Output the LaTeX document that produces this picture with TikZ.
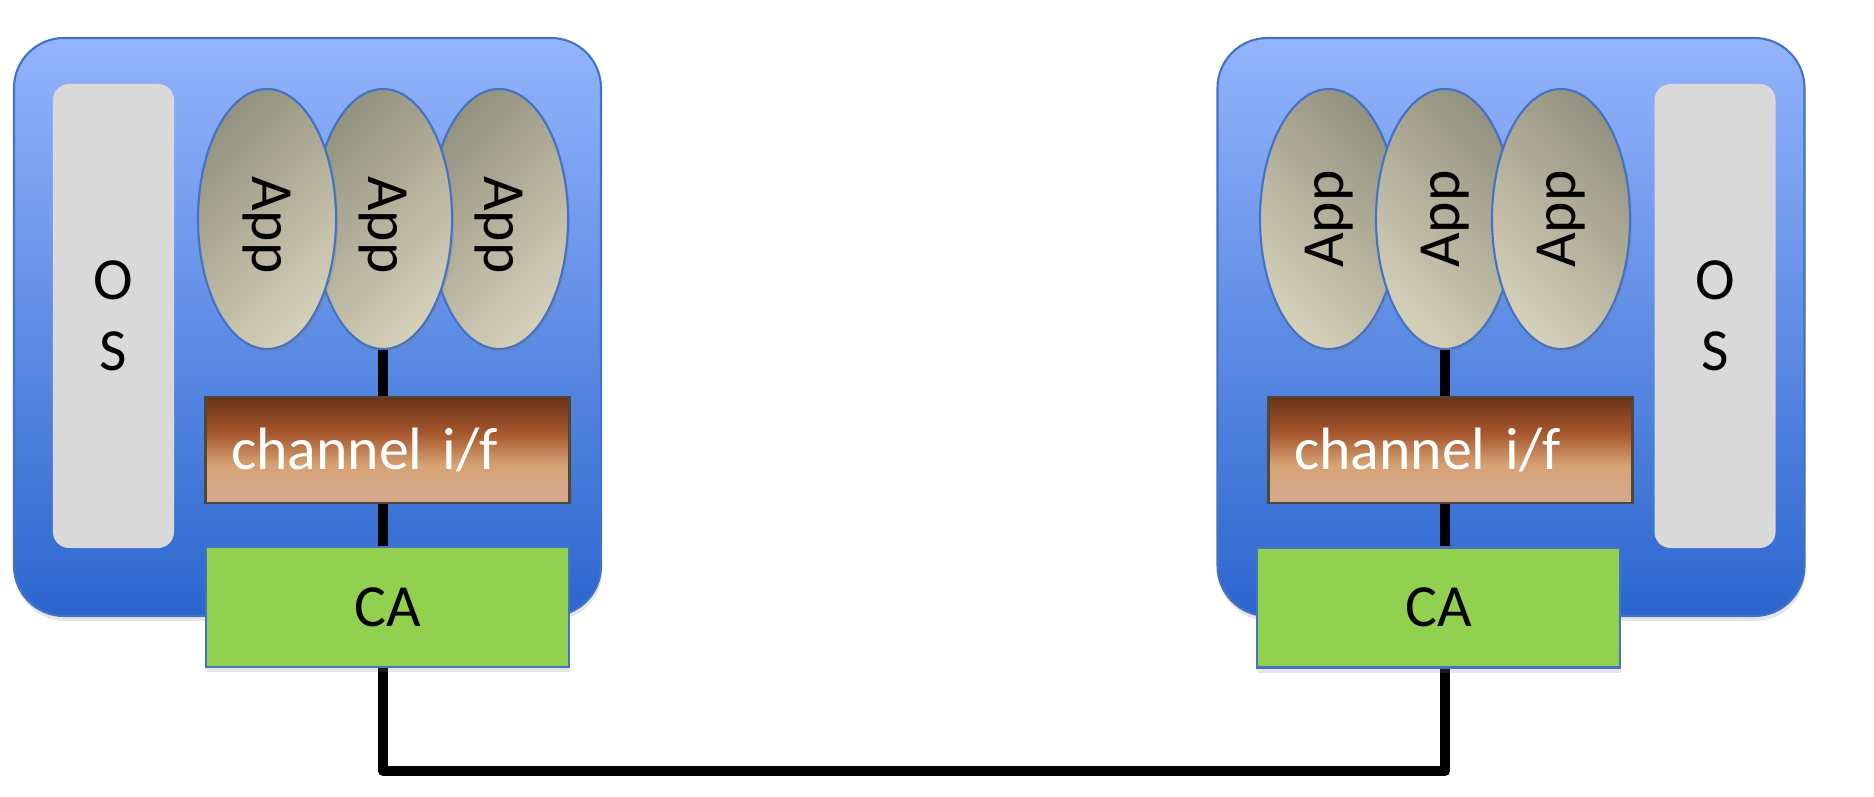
\documentclass[tikz,border=0pt]{standalone}
\usepackage{fontspec}
\setmainfont{Carlito}
\usetikzlibrary{positioning, shapes.geometric, shadows}

\definecolor{hosttop}{HTML}{94B4FC}
\definecolor{hostbot}{HTML}{2B66CE}
\definecolor{hostline}{HTML}{4472C4}
\definecolor{osgray}{HTML}{D9D9D9}
\definecolor{appdark}{HTML}{949281}
\definecolor{applight}{HTML}{D4CFB8}
\definecolor{chantop}{HTML}{6A3419}
\definecolor{chanmid}{HTML}{A6572D}
\definecolor{chanlow}{HTML}{D6A273}
\definecolor{chanbot}{HTML}{D6AA91}
\definecolor{chanline}{HTML}{4D4838}
\definecolor{cagreen}{HTML}{92D050}

\pgfdeclareverticalshading{chanshade}{100bp}{color(0bp)=(chanbot); color(25bp)=(chanbot); color(43bp)=(chanlow); color(58bp)=(chanmid); color(75bp)=(chantop); color(100bp)=(chantop)}

\tikzset{
  every node/.style={font=\fontsize{17}{20.2}\selectfont},
  node distance=1.16cm,
  host/.style={draw=hostline, line width=0.6pt, rounded corners=0.5cm, top color=hosttop, bottom color=hostbot,
    minimum width=5.87cm, minimum height=5.78cm, drop shadow={opacity=0.2, shadow xshift=0.01cm, shadow yshift=-0.05cm}},
  os/.style={fill=osgray, rounded corners=0.16cm, minimum width=1.21cm, minimum height=4.64cm, align=center},
  app/.style={ellipse, draw=hostline, line width=0.6pt, inner sep=0pt, minimum width=1.38cm, minimum height=2.60cm,
    top color=appdark, bottom color=applight, on grid, drop shadow={opacity=0.3, shadow xshift=0.02cm, shadow yshift=-0.03cm}},
  lapp/.style={app, shading angle=45},
  rapp/.style={app, shading angle=-45},
  chan/.style={draw=chanline, line width=0.7pt, shading=chanshade, text=white, minimum height=1.06cm,
    inner xsep=0.255cm, text width=3.13cm, align=left},
  ca/.style={draw=hostline, line width=0.6pt, fill=cagreen, minimum width=3.63cm, minimum height=1.20cm,
    drop shadow={opacity=0.2, shadow xshift=0.01cm, shadow yshift=-0.05cm}},
  wire/.style={line width=2.85pt, line join=round},
}

\begin{document}
\begin{tikzpicture}
  \useasboundingbox (0,0) rectangle (18.74,7.96);

  % hosts
  \node[host] (lhost) at (3.075,4.69) {};
  \node[host] (rhost) at (15.11,4.69) {};

  % operating systems
  \node[os] (los) at (1.135,4.80) {O\\S};
  \node[os] (ros) at (17.15,4.80) {O\\S};

  % apps
  \node[lapp] (la3) at (4.99,5.77) {\rotatebox{-90}{\hspace{0.12cm}App}};
  \node[lapp, left=of la3] (la2) {\rotatebox{-90}{\hspace{0.12cm}App}};
  \node[lapp, left=of la2] (la1) {\rotatebox{-90}{\hspace{0.12cm}App}};
  \node[rapp] (ra1) at (13.29,5.77) {\rotatebox{90}{App}};
  \node[rapp, right=of ra1] (ra2) {\rotatebox{90}{App}};
  \node[rapp, right=of ra2] (ra3) {\rotatebox{90}{App}};

  % link
  \coordinate (bus) at (0,0.25);
  \draw[wire] (la2.south) -- (la2.south |- bus) -| (ra2.south);

  % channel interfaces and adapters
  \node[chan] (lchan) at (3.875,3.46) {channel i/f};
  \node[chan] (rchan) at (14.505,3.46) {channel i/f};
  \node[ca] (lca) at (3.879,1.89) {CA};
  \node[ca] (rca) at (14.385,1.885) {CA};
\end{tikzpicture}
\end{document}
